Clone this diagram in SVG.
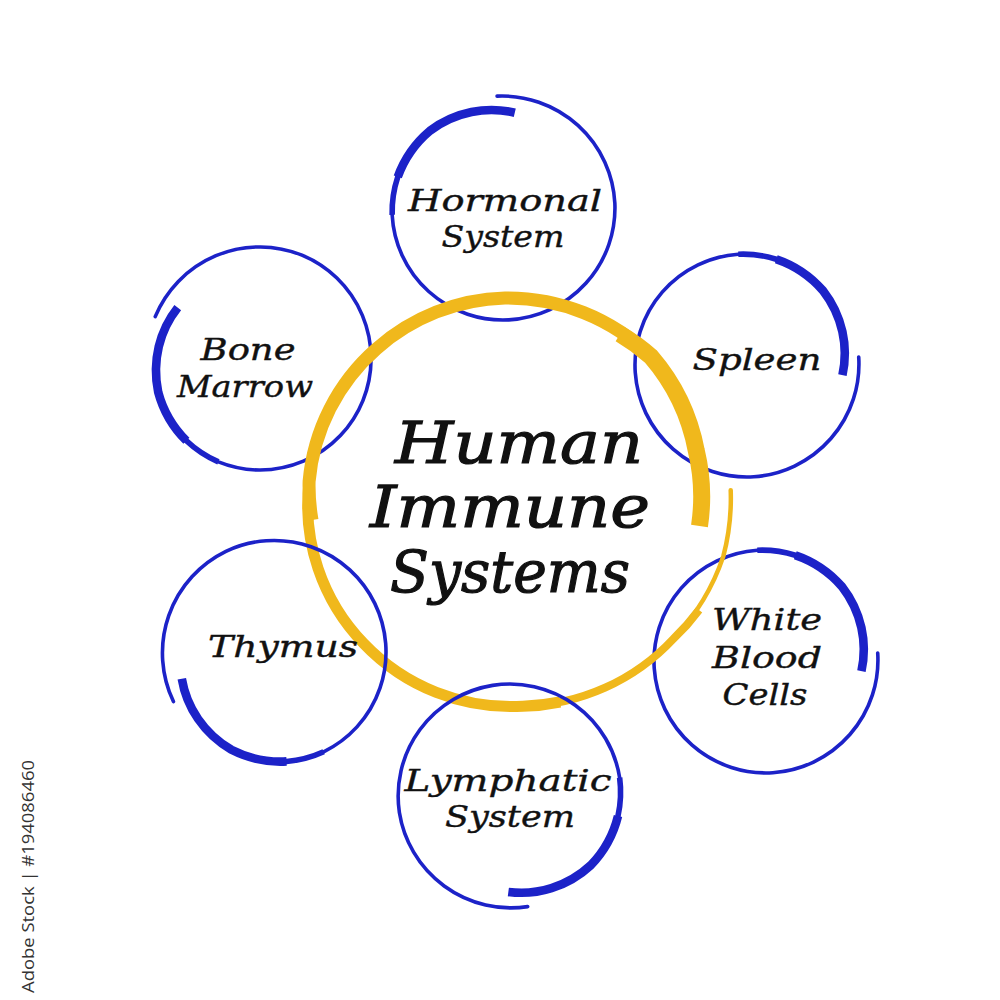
<svg xmlns="http://www.w3.org/2000/svg" width="1000" height="1000" viewBox="0 0 1000 1000">
<defs>
<style>
.bt{fill:none;stroke:#1c22c8;stroke-width:3.6;stroke-linecap:round}
.bm{fill:none;stroke:#1c22c8;stroke-width:5.6}
.bk{fill:none;stroke:#1c22c8;stroke-width:8.6}
.y{fill:none;stroke:#f0b81c}
.lbl{font-family:"DejaVu Serif","Liberation Serif",serif;font-style:italic;font-size:30px;fill:#111;stroke:#111;stroke-width:0.4;text-anchor:middle}
.ttl{font-family:"DejaVu Serif","Liberation Serif",serif;font-style:italic;font-size:58px;fill:#111;stroke:#111;stroke-width:1.2;text-anchor:middle}
</style>
<g id="ring">
<path class="bt" d="M113,0 A113,113 0 0 1 0,112 A112,112 0 0 1 -111,0 A111,111 0 0 1 0,-111 A111,111 0 0 1 37.6,-103.4"/>
<path class="bm" d="M0,-111 A111,111 0 0 1 37.6,-103.4 A109,109 0 0 1 82,-68.8"/>
<path class="bk" d="M37.6,-103.4 A108,108 0 0 1 82,-68.8 A104,104 0 0 1 98.5,-26.4 A100,100 0 0 1 95.5,16.8"/>
</g>
</defs>
<rect width="1000" height="1000" fill="#fff"/>
<g id="connectors"/>
<g id="node-hormonal">
<use href="#ring" transform="translate(503,209) rotate(-93)"/>
<text class="lbl" x="505" y="211" textLength="194" lengthAdjust="spacingAndGlyphs">Hormonal</text>
<text class="lbl" x="503" y="247" textLength="123" lengthAdjust="spacingAndGlyphs">System</text>
</g>
<g id="node-spleen">
<use href="#ring" transform="translate(746,365) rotate(-4)"/>
<text class="lbl" x="757" y="370" textLength="129" lengthAdjust="spacingAndGlyphs">Spleen</text>
</g>
<g id="node-bone-marrow">
<use href="#ring" transform="translate(260,359) rotate(202)"/>
<text class="lbl" x="248" y="360" textLength="95" lengthAdjust="spacingAndGlyphs">Bone</text>
<text class="lbl" x="245" y="397" textLength="136" lengthAdjust="spacingAndGlyphs">Marrow</text>
</g>
<g id="node-white-blood-cells">
<use href="#ring" transform="translate(765,661) rotate(-4)"/>
<text class="lbl" x="767" y="630" textLength="110" lengthAdjust="spacingAndGlyphs">White</text>
<text class="lbl" x="767" y="668" textLength="110" lengthAdjust="spacingAndGlyphs">Blood</text>
<text class="lbl" x="765" y="705" textLength="85" lengthAdjust="spacingAndGlyphs">Cells</text>
</g>
<g id="node-center">
<path class="y" stroke-width="4.5" stroke-linecap="round" d="M730.7,490.2 A226,226 0 0 1 723.3,556.4 A222,222 0 0 1 673.6,638.6"/>
<path class="y" stroke-width="8" d="M699,610 A218,218 0 0 1 673.6,638.6 A212,212 0 0 1 522.9,706.2"/>
<path class="y" stroke-width="11" d="M560,702 A205,205 0 0 1 522.9,706.2 A203,203 0 0 1 363.6,643.4 A199,199 0 0 1 309.1,481.4"/>
<path class="y" stroke-width="13" d="M312,520 A198,198 0 0 1 309.1,481.4 A199,199 0 0 1 376.4,348.8 A202,202 0 0 1 505,298 A205,205 0 0 1 650.7,356.3"/>
<path class="y" stroke-width="17" d="M620,334 A205,205 0 0 1 650.7,356.3 A202,202 0 0 1 696.3,450.8 A197,197 0 0 1 699.5,525.9"/>
<text class="ttl" x="519" y="463" textLength="248" lengthAdjust="spacingAndGlyphs">Human</text>
<text class="ttl" x="510" y="527" textLength="280" lengthAdjust="spacingAndGlyphs">Immune</text>
<text class="ttl" x="510" y="592" textLength="240" lengthAdjust="spacingAndGlyphs">Systems</text>
</g>
<g id="node-thymus">
<use href="#ring" transform="translate(275,652) rotate(154)"/>
<text class="lbl" x="283" y="657" textLength="150" lengthAdjust="spacingAndGlyphs">Thymus</text>
</g>
<g id="node-lymphatic">
<use href="#ring" transform="translate(510,795) rotate(81)"/>
<text class="lbl" x="508" y="791" textLength="207" lengthAdjust="spacingAndGlyphs">Lymphatic</text>
<text class="lbl" x="510" y="827" textLength="130" lengthAdjust="spacingAndGlyphs">System</text>
</g>
<text transform="translate(34,993) rotate(-90)" x="0" y="0" font-family="'Open Sans','Noto Sans',sans-serif" font-size="17" fill="#333" textLength="233" lengthAdjust="spacingAndGlyphs">Adobe Stock | #194086460</text>
</svg>
